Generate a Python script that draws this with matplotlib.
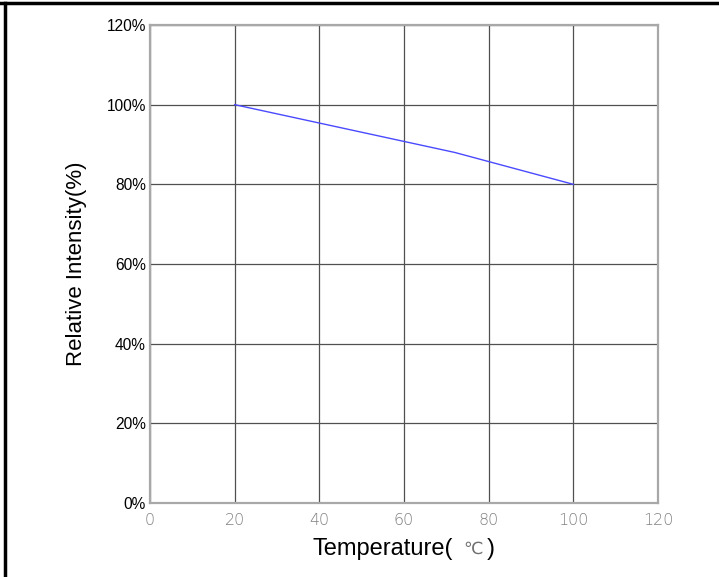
import matplotlib.pyplot as plt
from matplotlib.lines import Line2D

# data
temperature = [20, 72, 100]
intensity = [100, 88, 80]
x_ticks = [0, 20, 40, 60, 80, 100, 120]
y_ticks = [0, 20, 40, 60, 80, 100, 120]

plt.rcParams["font.family"] = ["Liberation Sans", "DejaVu Sans"]

fig = plt.figure(figsize=(7.19, 5.77), dpi=100)
ax = fig.add_axes([0.2086, 0.1282, 0.7066, 0.8285])

ax.plot(temperature, intensity, color="#4a4aff", lw=1.0, zorder=3)

ax.set_xlim(0, 120)
ax.set_ylim(0, 120)
ax.set_xticks(x_ticks)
ax.set_yticks(y_ticks)
ax.set_xticklabels([str(t) for t in x_ticks], color="#808080", fontsize=11.5,
                   family=["DejaVu Sans"], fontweight="light")
ax.set_yticklabels([f"{t}%" for t in y_ticks], fontsize=11.2)
ax.tick_params(axis="both", length=0)
ax.tick_params(axis="x", pad=7)
ax.tick_params(axis="y", pad=3)

ax.grid(True, color="#505050", lw=0.9)
ax.set_axisbelow(True)
for s in ax.spines.values():
    s.set_color("#a8a8a8")
    s.set_linewidth(1.6)

ax.set_ylabel("Relative Intensity(%)", fontsize=16)
ax.yaxis.set_label_coords(-0.124, 0.5)

# x label in three pieces: black text, grey degree sign, black bracket
ax.text(0.5965, -0.0962, "Temperature(", transform=ax.transAxes, fontsize=17,
        ha="right", va="center")
ax.text(0.636, -0.0962, "\u2103", transform=ax.transAxes, color="#707070",
        fontsize=12.5, ha="center", va="center", family=["DejaVu Sans"])
ax.text(0.671, -0.0962, ")", transform=ax.transAxes, fontsize=17,
        ha="center", va="center")

# outer frame (top and left only)
fig.add_artist(Line2D([0, 1], [1 - 3/577, 1 - 3/577], color="black", lw=2.5, transform=fig.transFigure))
fig.add_artist(Line2D([4.5/719, 4.5/719], [0, 1 - 3/577], color="black", lw=2.5, transform=fig.transFigure))

fig.savefig("out.png", dpi=100)
